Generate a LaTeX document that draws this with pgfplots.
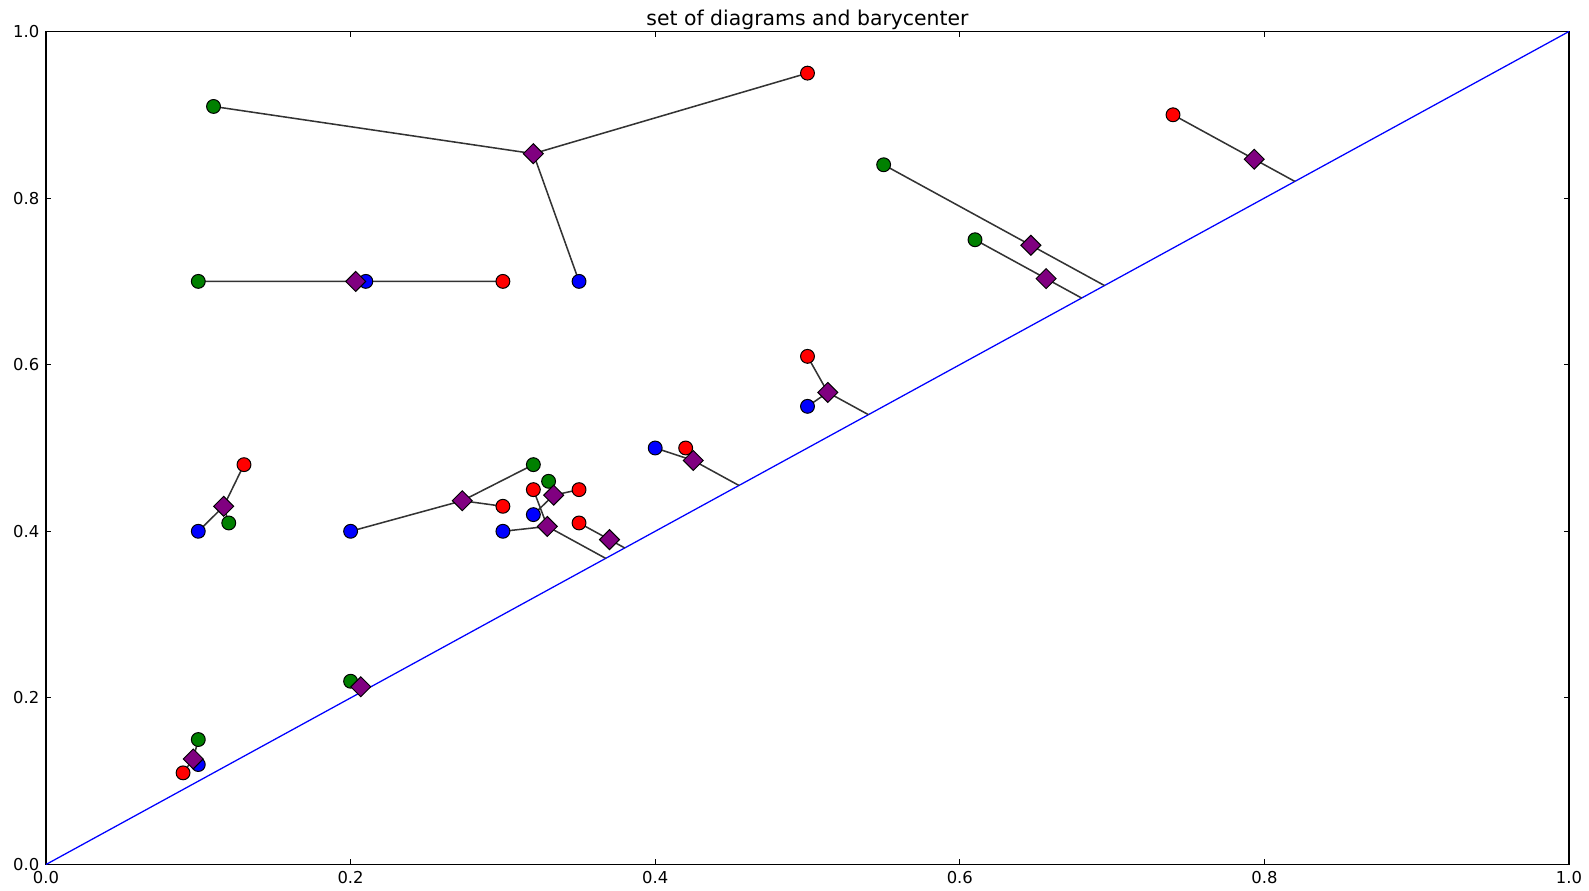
\documentclass[border=0pt]{standalone}
\usepackage{fontspec}
\setmainfont{DejaVu Sans}
\usepackage{pgfplots}
\pgfplotsset{compat=1.18}
\definecolor{mplgreen}{HTML}{008000}
\definecolor{mplred}{HTML}{FF0000}
\definecolor{mplblue}{HTML}{0000FF}
\definecolor{mplpurple}{HTML}{800080}
\definecolor{linegrey}{HTML}{333333}
\begin{document}
\begin{tikzpicture}[x=0.75pt,y=0.75pt]
\begin{axis}[
  scale only axis, width=1142.25pt, height=624.75pt,
  xmin=0, xmax=1, ymin=0, ymax=1,
  xtick={0,0.2,0.4,0.6,0.8,1},
  ytick={0,0.2,0.4,0.6,0.8,1},
  tick align=inside, major tick length=4pt,
  tick style={black, line width=0.7pt},
  axis line style={line width=1pt},
  ticklabel style={font=\fontsize{12.3}{14}\selectfont},
  xticklabel style={yshift=-1.5pt},
  yticklabel style={xshift=-1.5pt},
  /pgf/number format/fixed,
  /pgf/number format/fixed zerofill,
  /pgf/number format/precision=1,
  /pgf/number format/assume math mode=true,
  unbounded coords=jump,
]
\coordinate (O) at (rel axis cs:0,0);
\coordinate (T) at (rel axis cs:0.5,1);
% diagonal
\addplot[mplblue, line width=0.95pt] coordinates {(0,0) (1,1)};
% diagram points
\addplot[only marks, mark=*, mark size=5.2pt, mark options={fill=mplgreen, draw=black, line width=0.75pt}] coordinates {
(0.11,0.91) (0.10,0.70) (0.55,0.84) (0.61,0.75) (0.12,0.41) (0.32,0.48) (0.33,0.46) (0.10,0.15) (0.20,0.22)};
\addplot[only marks, mark=*, mark size=5.2pt, mark options={fill=mplred, draw=black, line width=0.75pt}] coordinates {
(0.50,0.95) (0.30,0.70) (0.74,0.90) (0.50,0.61) (0.42,0.50) (0.13,0.48) (0.30,0.43) (0.35,0.45) (0.32,0.45) (0.35,0.41) (0.09,0.11)};
\addplot[only marks, mark=*, mark size=5.2pt, mark options={fill=mplblue, draw=black, line width=0.75pt}] coordinates {
(0.35,0.70) (0.21,0.70) (0.50,0.55) (0.40,0.50) (0.10,0.40) (0.20,0.40) (0.32,0.42) (0.30,0.40) (0.10,0.12)};
% barycenter
\addplot[only marks, mark=square*, mark size=5.3pt, mark options={rotate=45, fill=mplpurple, draw=black, line width=0.75pt}] coordinates {
(0.32,0.85333) (0.20333,0.70) (0.79333,0.84667) (0.64667,0.74333) (0.65667,0.70333)
(0.51333,0.56667) (0.425,0.485) (0.11667,0.43) (0.27333,0.43667) (0.33333,0.44333)
(0.32917,0.40583) (0.37,0.39) (0.09667,0.12667) (0.20667,0.21333)};
% matching lines
\addplot[linegrey, line width=1.15pt] coordinates {
(0.32,0.85333) (0.11,0.91) (nan,nan) (0.32,0.85333) (0.50,0.95) (nan,nan) (0.32,0.85333) (0.35,0.70) (nan,nan)
(0.10,0.70) (0.30,0.70) (nan,nan)
(0.74,0.90) (0.82,0.82) (nan,nan)
(0.55,0.84) (0.695,0.695) (nan,nan)
(0.61,0.75) (0.68,0.68) (nan,nan)
(0.51333,0.56667) (0.50,0.61) (nan,nan) (0.51333,0.56667) (0.50,0.55) (nan,nan) (0.51333,0.56667) (0.54,0.54) (nan,nan)
(0.425,0.485) (0.40,0.50) (nan,nan) (0.425,0.485) (0.42,0.50) (nan,nan) (0.425,0.485) (0.455,0.455) (nan,nan)
(0.11667,0.43) (0.10,0.40) (nan,nan) (0.11667,0.43) (0.12,0.41) (nan,nan) (0.11667,0.43) (0.13,0.48) (nan,nan)
(0.27333,0.43667) (0.20,0.40) (nan,nan) (0.27333,0.43667) (0.30,0.43) (nan,nan) (0.27333,0.43667) (0.32,0.48) (nan,nan)
(0.33333,0.44333) (0.33,0.46) (nan,nan) (0.33333,0.44333) (0.35,0.45) (nan,nan) (0.33333,0.44333) (0.32,0.42) (nan,nan)
(0.32917,0.40583) (0.30,0.40) (nan,nan) (0.32917,0.40583) (0.32,0.45) (nan,nan) (0.32917,0.40583) (0.3675,0.3675) (nan,nan)
(0.35,0.41) (0.38,0.38) (nan,nan)
(0.09667,0.12667) (0.10,0.15) (nan,nan) (0.09667,0.12667) (0.09,0.11) (nan,nan) (0.09667,0.12667) (0.10,0.12) (nan,nan)
(0.20,0.22) (0.21,0.21)
};
\end{axis}
\node[anchor=base, font=\fontsize{15.3}{18}\selectfont, yshift=4.5pt] at (T) {set of diagrams and barycenter};
\pgfresetboundingbox
\path[use as bounding box] (O) ++(-46,-26.5) rectangle ++(1589,891);
\end{tikzpicture}
\end{document}
